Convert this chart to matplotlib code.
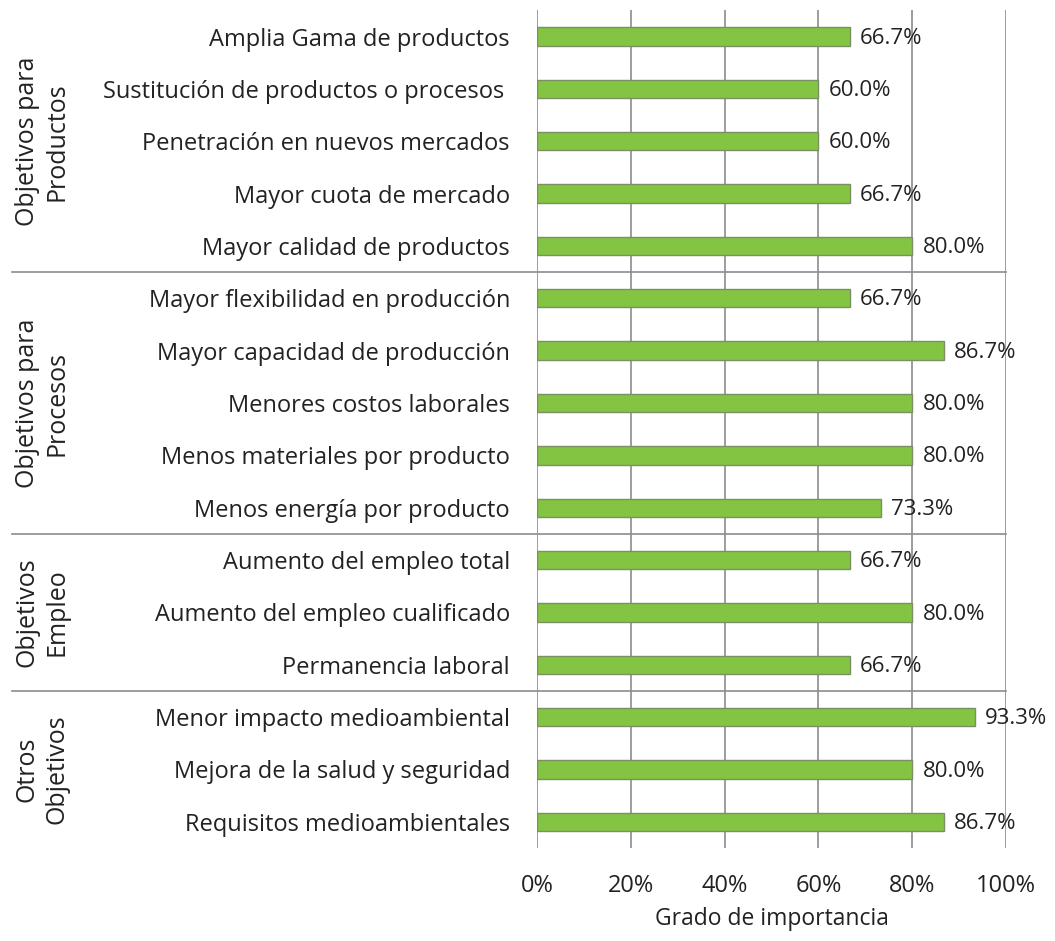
import matplotlib.pyplot as plt

plt.rcParams['font.family'] = ['Open Sans', 'DejaVu Sans']

labels = ['Amplia Gama de productos',
          'Sustitución de productos o procesos ',
          'Penetración en nuevos mercados',
          'Mayor cuota de mercado',
          'Mayor calidad de productos',
          'Mayor flexibilidad en producción',
          'Mayor capacidad de producción',
          'Menores costos laborales',
          'Menos materiales por producto',
          'Menos energía por producto',
          'Aumento del empleo total',
          'Aumento del empleo cualificado',
          'Permanencia laboral',
          'Menor impacto medioambiental',
          'Mejora de la salud y seguridad',
          'Requisitos medioambientales']
values = [66.7, 60.0, 60.0, 66.7, 80.0,
          66.7, 86.7, 80.0, 80.0, 73.3,
          66.7, 80.0, 66.7,
          93.3, 80.0, 86.7]

groups = ['Objetivos para\nProductos', 'Objetivos para\nProcesos',
          'Objetivos\nEmpleo', 'Otros\nObjetivos']
group_sizes = [5, 5, 3, 3]

fig = plt.figure(figsize=(10.55, 9.41), dpi=100)
ax = fig.add_axes([0.509, 0.0988, 0.4445, 0.8902])

y = list(range(len(values)))
ax.barh(y, values, height=0.35, color='#84c443', edgecolor='#7a8f62',
        linewidth=1, zorder=3)
for yi, v in zip(y, values):
    ax.text(v + 2.2, yi + 0.03, '%.1f%%' % v, va='center', ha='left',
            fontsize=16, color='#222222', zorder=4)

ax.set_xlim(0, 100)
ax.set_ylim(len(values) - 0.5, -0.5)
ax.set_yticks(y)
ax.set_yticklabels(labels, fontsize=17, color='#222222')
ax.set_xticks(range(0, 101, 20))
ax.set_xticklabels(['%d%%' % t for t in range(0, 101, 20)], fontsize=17,
                   color='#222222')
ax.tick_params(axis='y', length=0, pad=19.5)
ax.tick_params(axis='x', length=0, pad=19)
ax.xaxis.grid(True, color='#8c8c8c', linewidth=1.2, zorder=0)
for s in ax.spines.values():
    s.set_visible(False)
ax.set_xlabel('Grado de importancia', fontsize=16.5, color='#222222',
              labelpad=6)

# group separators and labels
tr = ax.get_yaxis_transform()
start = 0
for i, (g, n) in enumerate(zip(groups, group_sizes)):
    mid = start + (n - 1) / 2
    ax.text(-1.055, mid, g, transform=tr, rotation=90, ha='center',
            va='center', multialignment='center', fontsize=18,
            color='#222222', linespacing=1.25)
    start += n
    if i < len(groups) - 1:
        ax.plot([-1.12, 1.0], [start - 0.5, start - 0.5], transform=tr,
                color='#8c8c8c', linewidth=1.2, clip_on=False)

fig.savefig('out.png', dpi=100)
